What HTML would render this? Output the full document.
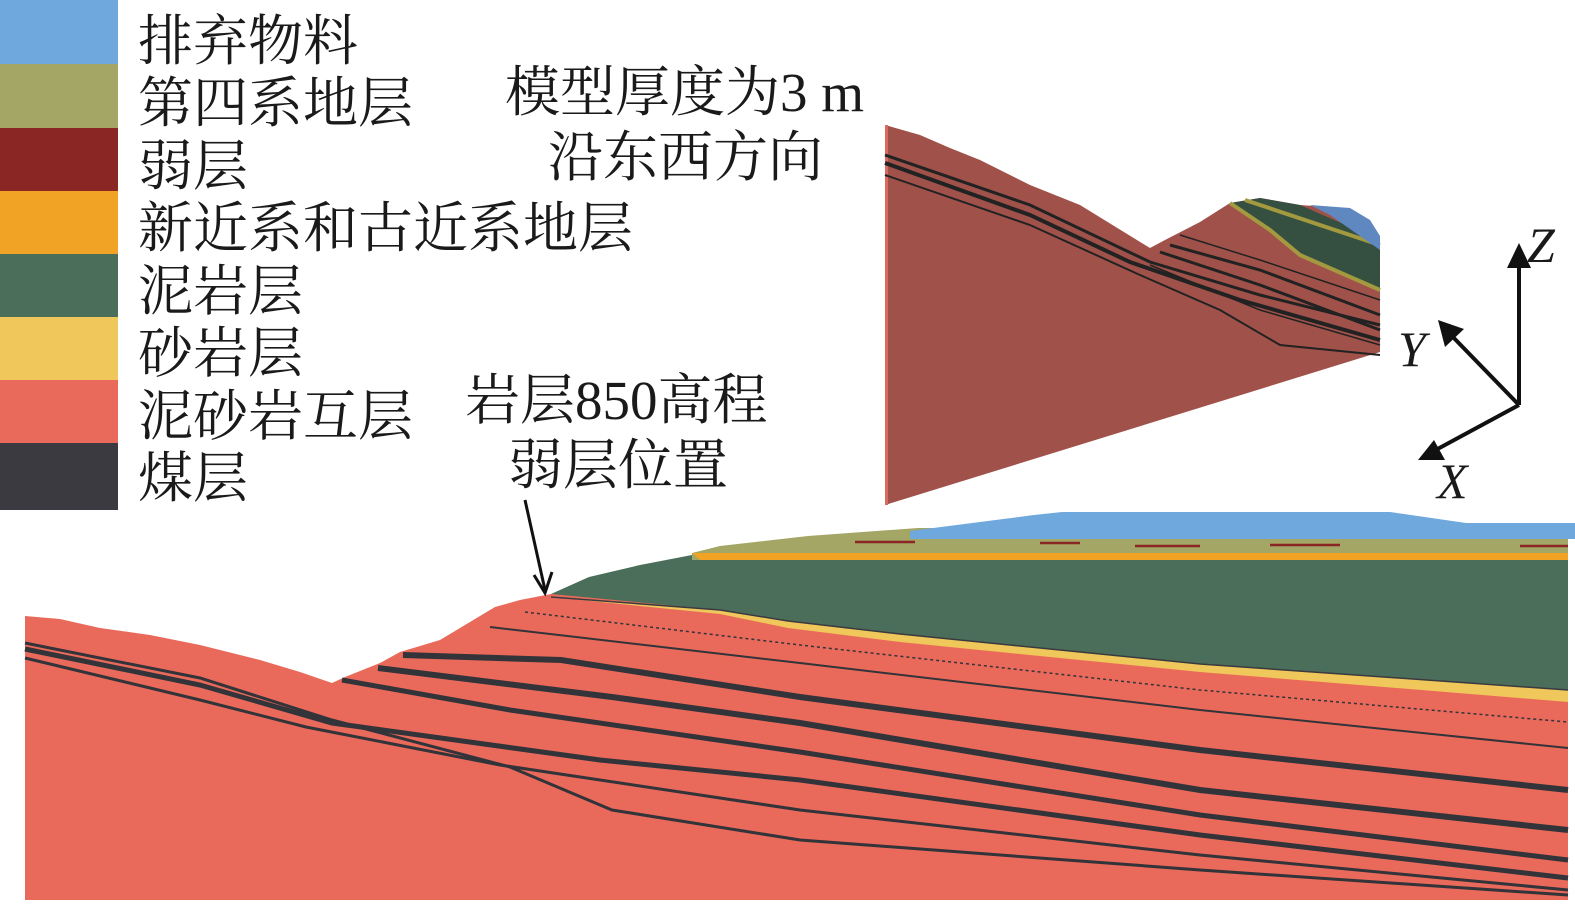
<!DOCTYPE html>
<html><head><meta charset="utf-8"><style>
body{margin:0;background:#fff;width:1575px;height:909px;overflow:hidden}
svg{display:block}
.t{font-family:"Liberation Serif","Noto Serif CJK SC",serif;font-size:55px;fill:#1a1a1a}
.ax{font-family:"Liberation Serif",serif;font-style:italic;font-size:50px;fill:#1a1a1a}
</style></head><body>
<svg width="1575" height="909" viewBox="0 0 1575 909" xmlns="http://www.w3.org/2000/svg">
<rect x="0" y="0" width="118" height="64" fill="#6fa8dc"/>
<rect x="0" y="64" width="118" height="64" fill="#a3a664"/>
<rect x="0" y="128" width="118" height="63" fill="#8a2624"/>
<rect x="0" y="191" width="118" height="63" fill="#f0a324"/>
<rect x="0" y="254" width="118" height="63" fill="#4a6e5a"/>
<rect x="0" y="317" width="118" height="63" fill="#f0c75a"/>
<rect x="0" y="380" width="118" height="63" fill="#e96a5a"/>
<rect x="0" y="443" width="118" height="67" fill="#3a3a40"/>
<text class="t" x="138" y="60">排弃物料</text>
<text class="t" x="138" y="122">第四系地层</text>
<text class="t" x="138" y="185">弱层</text>
<text class="t" x="138" y="247">新近系和古近系地层</text>
<text class="t" x="138" y="310">泥岩层</text>
<text class="t" x="138" y="372">砂岩层</text>
<text class="t" x="138" y="435">泥砂岩互层</text>
<text class="t" x="138" y="497">煤层</text>
<text class="t" x="505" y="111">模型厚度为3 m</text>
<text class="t" x="548" y="176">沿东西方向</text>
<text class="t" x="465" y="419">岩层850高程</text>
<text class="t" x="508" y="484">弱层位置</text>
<path d="M25,616 L60,619 L100,628 L150,635 L200,645 L260,660 L300,672 L332,683 L345,677 L380,663 L400,652 L440,640 L470,622 L495,607 L520,600 L551,594 L1568,594 L1568,900 L25,900 Z" fill="#e96a5a"/>
<path d="M551,594 L589,577 L640,565 L692,555 L1568,555 L1568,702 L1200,666 L900,635 L788,622 L720,610 Z" fill="#4a6e5a"/>
<path d="M551,597 L720,610 L788,621 L900,634 L1200,664 L1568,690 L1568,702 L1200,672 L900,642 L788,628 L720,614 Z" fill="#f0c75a"/>
<path d="M551,597 L720,610 L788,621 L900,634 L1200,664 L1568,690" fill="none" stroke="#3a3a40" stroke-width="1.5"/>
<path d="M692,553 L720,546 L808,536 L918,528 L1568,528 L1568,555 L692,560 Z" fill="#a3a664"/>
<path d="M692,553 L1568,553 L1568,560 L700,560 Z" fill="#f0a324"/>
<path d="M910,531 L1034,515 L1062,512 L1390,512 L1466,523 L1575,523 L1575,539 L910,539 Z" fill="#6fa8dc"/>
<path d="M855,542 L915,542 M1040,543 L1080,543 M1135,546 L1200,546 M1270,545 L1340,545 M1520,546 L1568,546" stroke="#8a2624" stroke-width="2.5"/>
<g fill="none" stroke="#33333a">
<path d="M525,612 L800,645 L1200,690 L1568,722" stroke-width="1.5" stroke-dasharray="3,3"/>
<path d="M490,627 L800,663 L1200,710 L1568,748" stroke-width="2"/>
<path d="M403,655 L561,660 L800,697 L1200,750 L1568,790" stroke-width="6"/>
<path d="M378,668 L612,697 L800,723 L1200,790 L1568,830" stroke-width="6"/>
<path d="M342,680 L510,710 L800,752 L1200,815 L1568,860" stroke-width="5"/>
<path d="M25,643 L200,678 L332,720 L510,767 L612,810 L800,840 L1200,870 L1568,895" stroke-width="3"/>
<path d="M25,649 L200,685 L332,723 L600,760 L800,780 L1200,835 L1568,878" stroke-width="5"/>
<path d="M25,658 L200,700 L306,727 L500,765 L800,810 L1200,855 L1568,890" stroke-width="3"/>
</g>
<line x1="525" y1="500" x2="545" y2="590" stroke="#111" stroke-width="3"/>
<path d="M534,575 L545,593 L552,572" fill="none" stroke="#111" stroke-width="3"/>
<path d="M885,125 L920,135 L950,148 L980,160 L1030,185 L1080,205 L1150,248 L1165,240 L1200,222 L1230,203 L1260,198 L1300,205 L1340,208 L1365,222 L1380,237 L1380,352 L885,505 Z" fill="#a0524a"/>
<rect x="885" y="125" width="3" height="380" fill="#d96a60"/>
<path d="M1230,203 L1260,198 L1300,205 L1380,240 L1380,290 L1300,255 L1270,230 Z" fill="#355040"/>
<path d="M1230,203 L1270,230 L1300,255 L1380,290" fill="none" stroke="#a39a40" stroke-width="4"/>
<path d="M1245,200 L1380,245" fill="none" stroke="#a39a40" stroke-width="4"/>
<path d="M1310,205 L1350,208 L1370,220 L1380,236 L1380,250 L1330,215 Z" fill="#5f88c0"/>
<g fill="none" stroke="#222">
<path d="M885,155 L1030,205 L1150,262 L1260,295 L1380,325" stroke-width="3"/>
<path d="M885,163 L1030,215 L1130,262 L1240,300 L1380,340" stroke-width="4"/>
<path d="M885,175 L1030,225 L1140,275 L1220,310 L1280,345 L1380,355" stroke-width="2"/>
<path d="M1180,235 L1260,260 L1380,300" stroke-width="1.5"/>
<path d="M1170,245 L1260,270 L1380,315" stroke-width="3"/>
<path d="M1160,252 L1260,285 L1380,330" stroke-width="3"/>
<path d="M1150,265 L1260,310 L1380,345" stroke-width="1.5"/>
</g>
<g stroke="#111" stroke-width="4" fill="none">
<line x1="1519" y1="405" x2="1519" y2="262"/>
<line x1="1519" y1="405" x2="1450" y2="334"/>
<line x1="1519" y1="405" x2="1432" y2="452"/>
</g>
<path d="M1519,243 L1507,268 L1531,268 Z" fill="#111"/>
<path d="M1438,320 L1445,347 L1464,329 Z" fill="#111"/>
<path d="M1418,460 L1445,460 L1434,440 Z" fill="#111"/>
<text class="ax" x="1527" y="262">Z</text>
<text class="ax" x="1398" y="366">Y</text>
<text class="ax" x="1437" y="498">X</text>
</svg>
</body></html>
